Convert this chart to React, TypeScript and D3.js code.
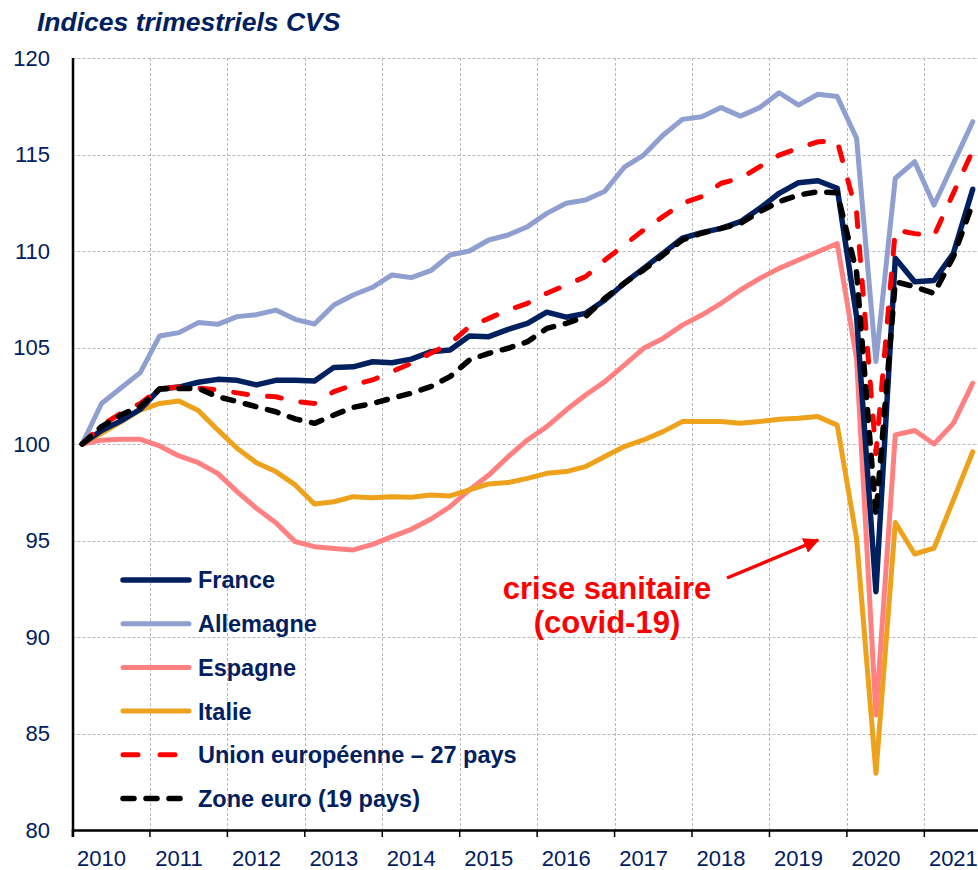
import React, { useEffect, useRef } from 'react';
import * as d3 from 'd3';

// trimestres 2010T1 -> 2021T3 (47 points), axe jusqu'à 2021T4
const years = [2010, 2011, 2012, 2013, 2014, 2015, 2016, 2017, 2018, 2019, 2020, 2021];
const yTicks = [80, 85, 90, 95, 100, 105, 110, 115, 120];

const france = [
  100, 100.7, 101.2, 101.8, 102.85, 102.95, 103.2, 103.35, 103.3, 103.06, 103.3, 103.3,
  103.26, 103.97, 104.0, 104.26, 104.21, 104.4, 104.78, 104.87, 105.6, 105.56, 105.94, 106.25,
  106.83, 106.57, 106.77, 107.46, 108.33, 109.1, 109.88, 110.66, 110.95, 111.17, 111.52, 112.21,
  112.99, 113.54, 113.64, 113.25, 106.6, 92.35, 109.62, 108.41, 108.47, 109.88, 113.2,
];
const allemagne = [
  100, 102.1, 102.9, 103.7, 105.6, 105.77, 106.29, 106.2, 106.6, 106.7, 106.94, 106.46,
  106.22, 107.2, 107.72, 108.12, 108.76, 108.62, 108.98, 109.79, 110.0, 110.57, 110.83, 111.26,
  111.95, 112.47, 112.64, 113.1, 114.34, 114.97, 116.0, 116.82, 116.96, 117.43, 116.99, 117.43,
  118.2, 117.56, 118.12, 118.0, 115.84, 104.27, 113.77, 114.63, 112.38, 114.54, 116.7,
];
const espagne = [
  100, 100.2, 100.24, 100.24, 99.9, 99.38, 99.03, 98.48, 97.53, 96.67, 95.92, 94.94,
  94.68, 94.59, 94.51, 94.8, 95.2, 95.58, 96.1, 96.75, 97.62, 98.39, 99.34, 100.21,
  100.9, 101.76, 102.54, 103.23, 104.09, 104.96, 105.47, 106.16, 106.68, 107.29, 107.98, 108.58,
  109.1, 109.53, 109.96, 110.39, 104.4, 85.96, 100.47, 100.7, 100.0, 101.07, 103.15,
];
const italie = [
  100, 100.55, 101.15, 101.76, 102.1, 102.23, 101.73, 100.73, 99.78, 99.03, 98.57, 97.88,
  96.89, 97.01, 97.27, 97.22, 97.27, 97.24, 97.36, 97.31, 97.62, 97.93, 98.0, 98.22,
  98.48, 98.57, 98.83, 99.35, 99.87, 100.21, 100.64, 101.16, 101.16, 101.16, 101.07, 101.16,
  101.28, 101.33, 101.42, 100.98, 95.1, 82.94, 95.93, 94.3, 94.6, 97.1, 99.6,
];
const ue27 = [
  100, 100.95, 101.6, 102.1, 102.85, 102.95, 102.9, 102.8, 102.65, 102.5, 102.45, 102.2,
  102.1, 102.71, 103.06, 103.32, 103.75, 104.18, 104.7, 105.21, 106.08, 106.51, 106.94, 107.29,
  107.81, 108.24, 108.67, 109.53, 110.31, 111.09, 111.78, 112.47, 112.82, 113.51, 113.77, 114.37,
  114.97, 115.32, 115.66, 115.7, 112.0, 99.5, 111.09, 110.9, 110.8, 113.0, 115.2,
];
const zoneEuro = [
  100, 100.9, 101.5, 101.95, 102.85, 102.88, 102.88, 102.45, 102.2, 101.93, 101.67, 101.3,
  101.07, 101.5, 101.9, 102.1, 102.37, 102.63, 102.97, 103.49, 104.35, 104.7, 104.96, 105.3,
  105.99, 106.25, 106.6, 107.55, 108.33, 109.02, 109.79, 110.57, 110.92, 111.17, 111.43, 112.04,
  112.56, 112.9, 113.07, 113.02, 108.9, 96.3, 108.41, 108.15, 107.8, 109.7, 112.47,
];

const seriesNames = ['France', 'Allemagne', 'Espagne', 'Italie', 'Union européenne – 27 pays', 'Zone euro (19 pays)'];

const NAVY = '#002060';
const FONT = 'Liberation Sans, Arial, sans-serif';

function App() {
  const ref = useRef(null);

  useEffect(() => {
    const width = 978;
    const left = 72.5;
    const top = 58;
    const bottom = 830;
    const step = 19.36;

    const svg = d3.select(ref.current);
    svg.selectAll('*').remove();

    const quarters = years.flatMap((y) => [1, 2, 3, 4].map((q) => `${y}T${q}`));

    const x = d3
      .scaleBand()
      .domain(quarters)
      .range([left, left + quarters.length * step]);

    const y = d3.scaleLinear().domain([80, 120]).range([bottom, top]);

    const cx = (i) => x(quarters[i]) + x.bandwidth() / 2;

    // grille
    const grid = svg.append('g').attr('stroke', '#b8b8b8').attr('stroke-width', 1).attr('stroke-dasharray', '3,2');
    grid
      .selectAll('line.h')
      .data(yTicks.filter((t) => t > 80))
      .join('line')
      .attr('x1', left)
      .attr('x2', width)
      .attr('y1', (d) => Math.round(y(d)) + 0.5)
      .attr('y2', (d) => Math.round(y(d)) + 0.5);
    grid
      .selectAll('line.v')
      .data(years.slice(1))
      .join('line')
      .attr('x1', (d) => Math.round(x(`${d}T1`)) + 0.5)
      .attr('x2', (d) => Math.round(x(`${d}T1`)) + 0.5)
      .attr('y1', top)
      .attr('y2', bottom);

    // axes
    svg
      .append('g')
      .attr('transform', `translate(0,${bottom})`)
      .call(
        d3
          .axisBottom(x)
          .tickValues(years.map((d) => `${d}T1`))
          .tickSize(7)
          .tickFormat(() => '')
      )
      .call((g) => g.select('.domain').attr('stroke', '#000').attr('stroke-width', 2.5))
      .call((g) => g.selectAll('.tick line').attr('stroke', '#000').attr('stroke-width', 1.5).attr('transform', `translate(${-x.bandwidth() / 2},0)`));

    svg
      .append('line')
      .attr('x1', left + 0.5)
      .attr('x2', left + 0.5)
      .attr('y1', top)
      .attr('y2', bottom + 1)
      .attr('stroke', '#000')
      .attr('stroke-width', 2.5);

    svg
      .append('g')
      .selectAll('text')
      .data(yTicks)
      .join('text')
      .attr('x', 50)
      .attr('y', (d) => y(d))
      .attr('dy', '0.36em')
      .attr('text-anchor', 'end')
      .attr('fill', NAVY)
      .attr('font-family', FONT)
      .attr('font-size', 22)
      .text((d) => d);

    svg
      .append('g')
      .selectAll('text')
      .data(years)
      .join('text')
      .attr('x', (d) => x(`${d}T2`) + x.bandwidth() / 2)
      .attr('y', 866)
      .attr('text-anchor', 'middle')
      .attr('fill', NAVY)
      .attr('font-family', FONT)
      .attr('font-size', 22)
      .text((d) => d);

    // titre
    svg
      .append('text')
      .attr('x', 37)
      .attr('y', 31)
      .attr('fill', NAVY)
      .attr('font-family', FONT)
      .attr('font-size', 26.5)
      .attr('font-weight', 'bold')
      .attr('font-style', 'italic')
      .text('Indices trimestriels CVS');

    const styles = [
      { color: NAVY, width: 5.5, dash: null },
      { color: '#8f9fcf', width: 5, dash: null },
      { color: '#ff8080', width: 5, dash: null },
      { color: '#eea21c', width: 5, dash: null },
      { color: '#ff0000', width: 5, dash: '14,20' },
      { color: '#000000', width: 5.5, dash: '11,12' },
    ];
    const values = [france, allemagne, espagne, italie, ue27, zoneEuro];
    const drawOrder = [1, 2, 3, 0, 4, 5];

    const line = d3
      .line()
      .x((d, i) => cx(i))
      .y((d) => y(d));

    drawOrder.forEach((k) => {
      const s = styles[k];
      svg
        .append('path')
        .datum(values[k])
        .attr('fill', 'none')
        .attr('stroke', s.color)
        .attr('stroke-width', s.width)
        .attr('stroke-linejoin', 'round')
        .attr('stroke-linecap', 'round')
        .attr('stroke-dasharray', s.dash)
        .attr('d', line);
    });

    // légende
    const legend = svg.append('g');
    seriesNames.forEach((name, k) => {
      const s = styles[k];
      const ly = 580 + k * 43.7;
      legend
        .append('line')
        .attr('x1', 123)
        .attr('x2', k === 5 ? 183 : k === 4 ? 186 : 189)
        .attr('y1', ly)
        .attr('y2', ly)
        .attr('stroke', s.color)
        .attr('stroke-width', s.width)
        .attr('stroke-linecap', 'round')
        .attr('stroke-dasharray', k === 4 ? '15,22' : k === 5 ? '11,12' : null);
      legend
        .append('text')
        .attr('x', 198)
        .attr('y', ly)
        .attr('dy', '0.36em')
        .attr('fill', NAVY)
        .attr('font-family', FONT)
        .attr('font-size', 23.5)
        .attr('font-weight', 'bold')
        .text(name);
    });

    // annotation
    const ann = svg
      .append('g')
      .attr('fill', '#ff0000')
      .attr('font-family', FONT)
      .attr('font-size', 31)
      .attr('font-weight', 'bold')
      .attr('text-anchor', 'middle');
    ann.append('text').attr('x', 607).attr('y', 599).text('crise sanitaire');
    ann.append('text').attr('x', 607).attr('y', 633).text('(covid-19)');

    svg
      .append('defs')
      .append('marker')
      .attr('id', 'arrow')
      .attr('viewBox', '0 0 10 10')
      .attr('refX', 9)
      .attr('refY', 5)
      .attr('markerWidth', 4.5)
      .attr('markerHeight', 4.5)
      .attr('orient', 'auto')
      .append('path')
      .attr('d', 'M0,0 L10,5 L0,10 Z')
      .attr('fill', '#ff0000');
    svg
      .append('line')
      .attr('x1', 727)
      .attr('y1', 578)
      .attr('x2', 818)
      .attr('y2', 540)
      .attr('stroke', '#ff0000')
      .attr('stroke-width', 3.5)
      .attr('marker-end', 'url(#arrow)');
  }, []);

  return (
    <svg
      ref={ref}
      width={978}
      height={870}
      style={{ position: 'absolute', left: 0, top: 0, background: '#fff' }}
    />
  );
}

export default App;
